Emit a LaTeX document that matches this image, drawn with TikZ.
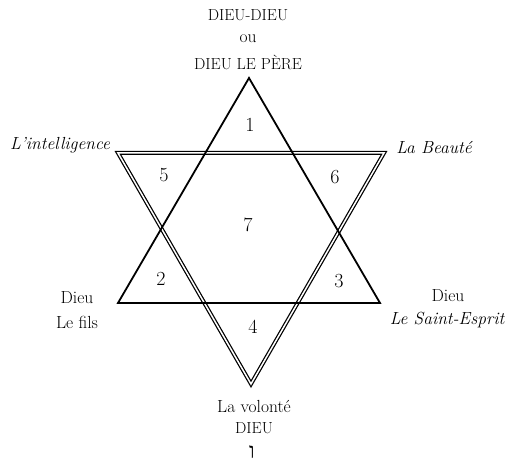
\documentclass[tikz,border=0pt]{standalone}
\usepackage{fontspec}
\newfontfamily\hebfont[Script=Hebrew]{Liberation Serif}
\TeXXeTstate=1
\begin{document}
\begin{tikzpicture}[x=1pt,y=-1pt,
  txt/.style={font=\fontsize{17.5}{20}\selectfont, inner sep=0pt, anchor=center},
  captxt/.style={txt, font=\fontsize{16}{18}\selectfont},
  itxt/.style={txt, font=\fontsize{17.5}{20}\selectfont\itshape},
  hebtxt/.style={txt, font=\fontsize{22}{24}\selectfont\hebfont},
  num/.style={font=\fontsize{20}{22}\selectfont, inner sep=0pt},
  single/.style={line width=1.8pt, line join=miter},
  dbl/.style={double, double distance=1.5pt, line width=1.25pt, line join=miter}]
\useasboundingbox (0,0) rectangle (507,468);
% downward (double) triangle
\coordinate (D) at (118,153);
\coordinate (E) at (384,153);
\coordinate (F) at (251,384);
\draw[dbl] (D) -- (E) -- (F) -- cycle;
% upward (single) triangle
\coordinate (A) at (249,78);
\coordinate (B) at (118,303);
\coordinate (C) at (380,303);
\draw[single] (A) -- (B) -- (C) -- cycle;
% numbers
\node[num] (n1) at (250,125) {1};
\node[num] (n5) at (164,175) {5};
\node[num] (n6) at (335,177) {6};
\node[num] (n7) at (248,225) {7};
\node[num] (n2) at (161,279) {2};
\node[num] (n3) at (339,281) {3};
\node[num] (n4) at (253,327) {4};
% top
\node[captxt] (t1) at (248,15) {DIEU-DIEU};
\node[txt] (t2) at (248,39) {ou};
\node[captxt] (t3) at (248,62) {DIEU LE PÈRE};
% sides
\node[itxt] (l1) at (60,145) {L'intelligence};
\node[itxt] (r1) at (434,147) {La Beauté};
\node[txt] (l2) at (77,298) {Dieu};
\node[txt] (l3) at (77,322) {Le fils};
\node[txt] (r2) at (448,296) {Dieu};
\node[itxt] (r3) at (447,320) {Le Saint-Esprit};
% bottom
\node[txt] (b1) at (254,406) {La volonté};
\node[captxt] (b2) at (254,428) {DIEU};
\node[hebtxt] (b3) at (252,452) {\beginR ו\endR};
\end{tikzpicture}
\end{document}
